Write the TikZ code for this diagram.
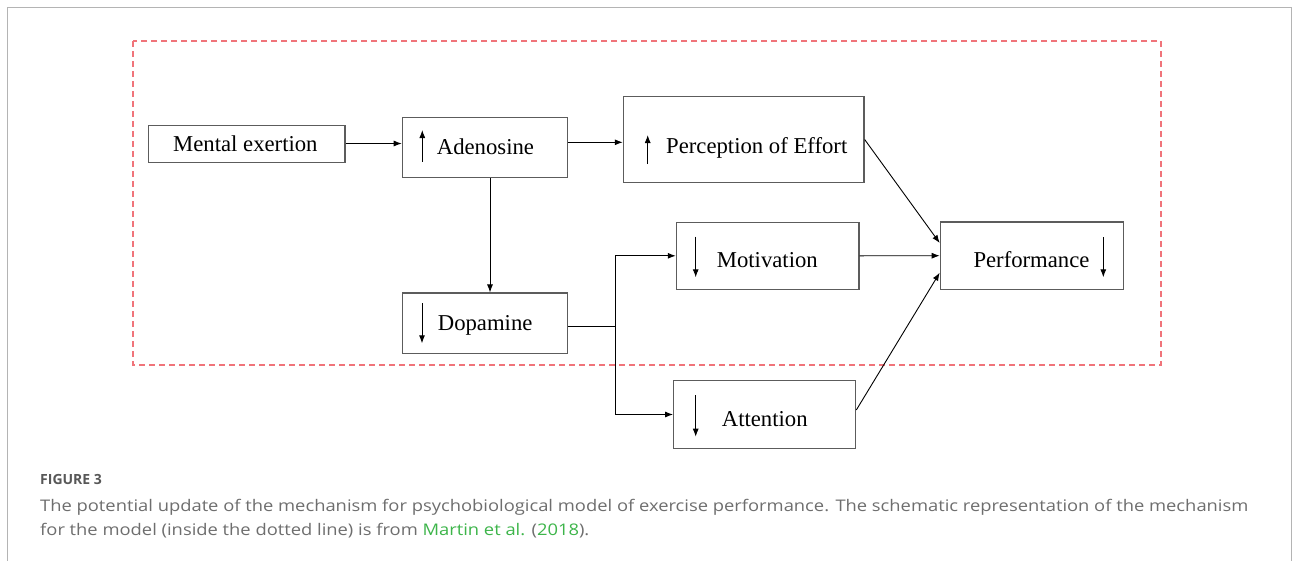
\documentclass[tikz,border=0pt]{standalone}
\usepackage{fontspec}
\setmainfont{Liberation Serif}
\newfontfamily\capfont{Open Sans}
\usetikzlibrary{arrows.meta,calc}
\definecolor{boxgray}{HTML}{5C5C5C}
\definecolor{framegray}{HTML}{B4B4B4}
\definecolor{dashred}{HTML}{F0747A}
\definecolor{captext}{HTML}{6E6E6E}
\definecolor{capgreen}{HTML}{3DB54A}
\tikzset{
  bx/.style={draw=boxgray,line width=1.2pt,inner sep=0pt,fill=white},
  lbl/.style={anchor=base west,inner sep=0pt,font=\fontsize{22.7}{26}\selectfont},
  arr/.style={draw=black,line width=0.9pt,-{Latex[length=8pt,width=6pt]}},
  conn/.style={draw=black,line width=0.9pt},
  captxt/.style={anchor=base west,inner sep=0pt,text=captext,font=\capfont\fontsize{16}{18}\selectfont},
}
\begin{document}
\begin{tikzpicture}[x=1pt,y=-1pt]
\useasboundingbox (0,0) rectangle (1293,560);
\fill[white] (0,0) rectangle (1293,560);
% outer frame
\draw[framegray,line width=1.2pt] (7.3,600) -- (7.3,7.3) -- (1291.5,7.3) -- (1291.5,600);
% dashed region
\draw[dashred,line width=1.4pt,dash pattern=on 6pt off 4pt] (133,41) rectangle (1161,365);

% boxes
\node[bx,minimum width=196.7pt,minimum height=36.6pt] (ment) at (246.7,144) {};
\node[bx,minimum width=165.4pt,minimum height=60.4pt] (aden) at (485,147.5) {};
\node[bx,minimum width=240.7pt,minimum height=85.6pt] (perc) at (743.7,139.5) {};
\node[bx,minimum width=165.4pt,minimum height=60.3pt] (dop) at (485,323.2) {};
\node[bx,minimum width=182.7pt,minimum height=67pt] (mot) at (767.7,255.8) {};
\node[bx,minimum width=182pt,minimum height=67.6pt] (att) at (764.7,414.5) {};
\node[bx,minimum width=183pt,minimum height=67.3pt] (perf) at (1031.8,255.7) {};

% labels
\node[lbl] (tment) at (173,151.7) {Mental exertion};
\node[lbl] (taden) at (436.7,154) {Adenosine};
\node[lbl] (tperc) at (666,153.3) {Perception of Effort};
\node[lbl] (tdop) at (437.7,330.7) {Dopamine};
\node[lbl] (tmot) at (716.7,267.7) {Motivation};
\node[lbl] (tatt) at (721.7,426.7) {Attention};
\node[lbl] (tperf) at (973.3,267.3) {Performance};

% inner up/down arrows
\coordinate (a1s) at (422.3,161.7); \coordinate (a1e) at (422.3,130);
\coordinate (a2s) at (647.7,164);   \coordinate (a2e) at (647.7,135);
\coordinate (a3s) at (422,303.3);   \coordinate (a3e) at (422,343.3);
\coordinate (a4s) at (695.7,236.7); \coordinate (a4e) at (695.7,277.3);
\coordinate (a5s) at (695.7,395);   \coordinate (a5e) at (695.7,436.7);
\coordinate (a6s) at (1103.3,237.3); \coordinate (a6e) at (1103.3,277.3);
\foreach \i in {1,...,6} \draw[arr] (a\i s) -- (a\i e);

% connectors
\draw[arr] ([yshift=0.5pt]ment.east) -- ([yshift=0.5pt]ment.east -| aden.west);
\draw[arr] ([yshift=5.2pt]aden.east) -- ([yshift=5.2pt]aden.east -| perc.west);
\draw[arr] ([xshift=5pt]aden.south) -- ([xshift=5pt]aden.south |- dop.north);
\coordinate (br) at (615,326.7);
\draw[conn] ([yshift=-3.5pt]dop.east) -- (br);
\draw[arr] (br) |- (mot.west);
\draw[arr] (br) |- (att.west);
\draw[arr] (perc.east) -- ([yshift=12.7pt]perf.west);
\draw[arr] (mot.east) -- (perf.west);
\draw[arr] ([yshift=4.5pt]att.east) -- ([yshift=-17pt]perf.west);

% caption
\node[captxt,text=captext!80!black,font=\capfont\fontsize{14}{16}\selectfont\bfseries] (fig) at (40,484.5) {FIGURE 3};
\node[captxt] (cap1) at (40,511) {\scalebox{1.147}[1]{The potential update of the mechanism for psychobiological model of exercise performance. The schematic representation of the mechanism}};
\node[captxt] (cap2) at (40,535) {\scalebox{1.147}[1]{for the model (inside the dotted line) is from \textcolor{capgreen}{Martin et al.} (\textcolor{capgreen}{2018}).}};
\end{tikzpicture}
\end{document}
